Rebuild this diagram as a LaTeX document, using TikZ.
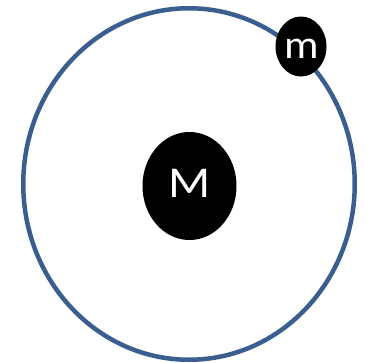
\documentclass[tikz,border=0pt]{standalone}
\usepackage{fontspec}
\setmainfont{Carlito}
\usetikzlibrary{shapes.geometric}
\definecolor{orbitblue}{HTML}{3A5F8F}
\begin{document}
\begin{tikzpicture}[x=1pt,y=-1pt,
  body/.style={ellipse, fill=black, inner sep=0pt},
  bodytext/.style={text=white, inner sep=0pt},
  orbitline/.style={ellipse, draw=orbitblue, line width=4.5pt, inner sep=0pt}]
\useasboundingbox (0,0) rectangle (367,362);
\node[orbitline, minimum width=331.5pt, minimum height=351.5pt] (orbit) at (189,184) {};
\node[body, minimum width=94pt, minimum height=108pt,
  label={[bodytext, font=\fontsize{44}{44}\selectfont, yshift=2.5pt]center:\scalebox{1.12}[1]{M}}] (M) at (189.5,186) {};
\node[body, minimum width=51pt, minimum height=60pt,
  label={[bodytext, font=\fontsize{40}{40}\selectfont, xshift=1pt, yshift=-2pt]center:\scalebox{1.08}[1]{m}}] (m) at (301,46.5) {};
\end{tikzpicture}
\end{document}
